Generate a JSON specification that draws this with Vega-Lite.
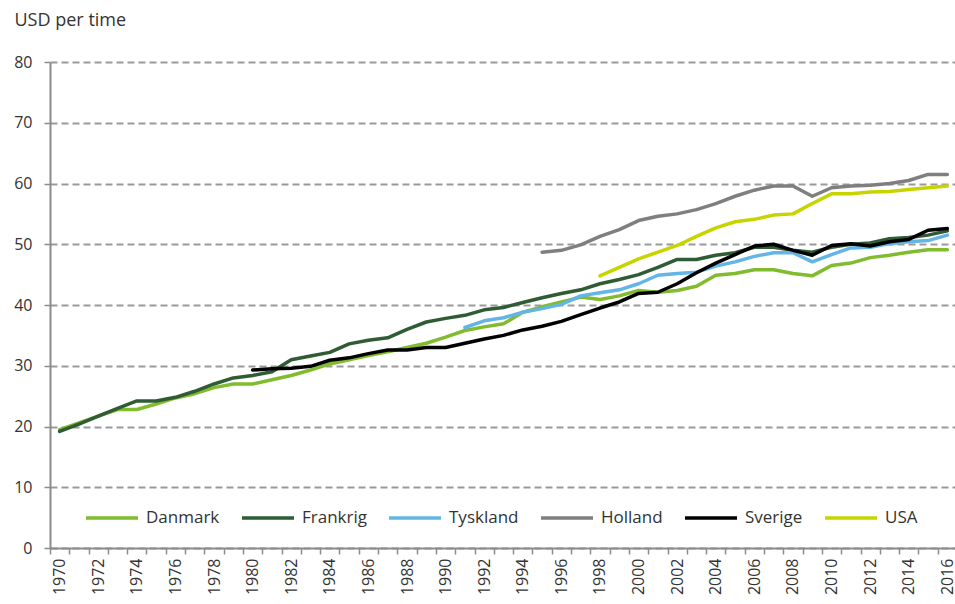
{
  "$schema": "https://vega.github.io/schema/vega-lite/v6.json",
  "autosize": {"type": "none"},
  "padding": {"left": 50, "top": 62, "right": 0, "bottom": 56},
  "width": 907,
  "height": 486,
  "config": {
    "view": {"stroke": null},
    "font": "Open Sans",
    "axis": {"labelFont": "Open Sans", "titleFont": "Open Sans"},
    "legend": {"labelFont": "Open Sans"}
  },
  "data": {"values": [
    {"year":1970,"country":"Danmark","value":19.5},{"year":1971,"country":"Danmark","value":20.6},{"year":1972,"country":"Danmark","value":21.7},{"year":1973,"country":"Danmark","value":22.8},{"year":1974,"country":"Danmark","value":22.8},{"year":1975,"country":"Danmark","value":23.7},{"year":1976,"country":"Danmark","value":24.7},{"year":1977,"country":"Danmark","value":25.4},{"year":1978,"country":"Danmark","value":26.4},{"year":1979,"country":"Danmark","value":27.0},{"year":1980,"country":"Danmark","value":27.0},{"year":1981,"country":"Danmark","value":27.7},{"year":1982,"country":"Danmark","value":28.4},{"year":1983,"country":"Danmark","value":29.3},{"year":1984,"country":"Danmark","value":30.3},{"year":1985,"country":"Danmark","value":31.0},{"year":1986,"country":"Danmark","value":31.7},{"year":1987,"country":"Danmark","value":32.3},{"year":1988,"country":"Danmark","value":33.0},{"year":1989,"country":"Danmark","value":33.7},{"year":1990,"country":"Danmark","value":34.7},{"year":1991,"country":"Danmark","value":35.8},{"year":1992,"country":"Danmark","value":36.4},{"year":1993,"country":"Danmark","value":36.9},{"year":1994,"country":"Danmark","value":38.8},{"year":1995,"country":"Danmark","value":39.7},{"year":1996,"country":"Danmark","value":40.5},{"year":1997,"country":"Danmark","value":41.3},{"year":1998,"country":"Danmark","value":40.9},{"year":1999,"country":"Danmark","value":41.5},{"year":2000,"country":"Danmark","value":42.4},{"year":2001,"country":"Danmark","value":42.1},{"year":2002,"country":"Danmark","value":42.4},{"year":2003,"country":"Danmark","value":43.1},{"year":2004,"country":"Danmark","value":44.9},{"year":2005,"country":"Danmark","value":45.2},{"year":2006,"country":"Danmark","value":45.8},{"year":2007,"country":"Danmark","value":45.8},{"year":2008,"country":"Danmark","value":45.2},{"year":2009,"country":"Danmark","value":44.8},{"year":2010,"country":"Danmark","value":46.5},{"year":2011,"country":"Danmark","value":46.9},{"year":2012,"country":"Danmark","value":47.8},{"year":2013,"country":"Danmark","value":48.2},{"year":2014,"country":"Danmark","value":48.7},{"year":2015,"country":"Danmark","value":49.1},{"year":2016,"country":"Danmark","value":49.1},
    {"year":1970,"country":"Frankrig","value":19.2},{"year":1971,"country":"Frankrig","value":20.4},{"year":1972,"country":"Frankrig","value":21.7},{"year":1973,"country":"Frankrig","value":23.0},{"year":1974,"country":"Frankrig","value":24.2},{"year":1975,"country":"Frankrig","value":24.2},{"year":1976,"country":"Frankrig","value":24.8},{"year":1977,"country":"Frankrig","value":25.8},{"year":1978,"country":"Frankrig","value":27.0},{"year":1979,"country":"Frankrig","value":28.0},{"year":1980,"country":"Frankrig","value":28.4},{"year":1981,"country":"Frankrig","value":29.0},{"year":1982,"country":"Frankrig","value":31.0},{"year":1983,"country":"Frankrig","value":31.6},{"year":1984,"country":"Frankrig","value":32.2},{"year":1985,"country":"Frankrig","value":33.6},{"year":1986,"country":"Frankrig","value":34.2},{"year":1987,"country":"Frankrig","value":34.6},{"year":1988,"country":"Frankrig","value":36.0},{"year":1989,"country":"Frankrig","value":37.2},{"year":1990,"country":"Frankrig","value":37.8},{"year":1991,"country":"Frankrig","value":38.3},{"year":1992,"country":"Frankrig","value":39.2},{"year":1993,"country":"Frankrig","value":39.6},{"year":1994,"country":"Frankrig","value":40.4},{"year":1995,"country":"Frankrig","value":41.2},{"year":1996,"country":"Frankrig","value":41.9},{"year":1997,"country":"Frankrig","value":42.5},{"year":1998,"country":"Frankrig","value":43.5},{"year":1999,"country":"Frankrig","value":44.2},{"year":2000,"country":"Frankrig","value":45.0},{"year":2001,"country":"Frankrig","value":46.2},{"year":2002,"country":"Frankrig","value":47.5},{"year":2003,"country":"Frankrig","value":47.5},{"year":2004,"country":"Frankrig","value":48.2},{"year":2005,"country":"Frankrig","value":48.6},{"year":2006,"country":"Frankrig","value":49.5},{"year":2007,"country":"Frankrig","value":49.5},{"year":2008,"country":"Frankrig","value":49.0},{"year":2009,"country":"Frankrig","value":48.7},{"year":2010,"country":"Frankrig","value":49.5},{"year":2011,"country":"Frankrig","value":50.0},{"year":2012,"country":"Frankrig","value":50.2},{"year":2013,"country":"Frankrig","value":50.9},{"year":2014,"country":"Frankrig","value":51.1},{"year":2015,"country":"Frankrig","value":51.5},{"year":2016,"country":"Frankrig","value":52.2},
    {"year":1991,"country":"Tyskland","value":36.3},{"year":1992,"country":"Tyskland","value":37.4},{"year":1993,"country":"Tyskland","value":37.9},{"year":1994,"country":"Tyskland","value":38.8},{"year":1995,"country":"Tyskland","value":39.4},{"year":1996,"country":"Tyskland","value":40.1},{"year":1997,"country":"Tyskland","value":41.5},{"year":1998,"country":"Tyskland","value":42.0},{"year":1999,"country":"Tyskland","value":42.5},{"year":2000,"country":"Tyskland","value":43.5},{"year":2001,"country":"Tyskland","value":44.9},{"year":2002,"country":"Tyskland","value":45.2},{"year":2003,"country":"Tyskland","value":45.4},{"year":2004,"country":"Tyskland","value":46.4},{"year":2005,"country":"Tyskland","value":47.1},{"year":2006,"country":"Tyskland","value":48.0},{"year":2007,"country":"Tyskland","value":48.6},{"year":2008,"country":"Tyskland","value":48.6},{"year":2009,"country":"Tyskland","value":47.1},{"year":2010,"country":"Tyskland","value":48.3},{"year":2011,"country":"Tyskland","value":49.4},{"year":2012,"country":"Tyskland","value":49.5},{"year":2013,"country":"Tyskland","value":50.1},{"year":2014,"country":"Tyskland","value":50.4},{"year":2015,"country":"Tyskland","value":50.6},{"year":2016,"country":"Tyskland","value":51.5},
    {"year":1995,"country":"Holland","value":48.7},{"year":1996,"country":"Holland","value":49.0},{"year":1997,"country":"Holland","value":49.9},{"year":1998,"country":"Holland","value":51.3},{"year":1999,"country":"Holland","value":52.4},{"year":2000,"country":"Holland","value":53.9},{"year":2001,"country":"Holland","value":54.6},{"year":2002,"country":"Holland","value":55.0},{"year":2003,"country":"Holland","value":55.7},{"year":2004,"country":"Holland","value":56.7},{"year":2005,"country":"Holland","value":57.9},{"year":2006,"country":"Holland","value":58.9},{"year":2007,"country":"Holland","value":59.6},{"year":2008,"country":"Holland","value":59.6},{"year":2009,"country":"Holland","value":57.9},{"year":2010,"country":"Holland","value":59.3},{"year":2011,"country":"Holland","value":59.6},{"year":2012,"country":"Holland","value":59.7},{"year":2013,"country":"Holland","value":60.0},{"year":2014,"country":"Holland","value":60.5},{"year":2015,"country":"Holland","value":61.5},{"year":2016,"country":"Holland","value":61.5},
    {"year":1980,"country":"Sverige","value":29.3},{"year":1981,"country":"Sverige","value":29.5},{"year":1982,"country":"Sverige","value":29.6},{"year":1983,"country":"Sverige","value":29.9},{"year":1984,"country":"Sverige","value":30.9},{"year":1985,"country":"Sverige","value":31.3},{"year":1986,"country":"Sverige","value":32.0},{"year":1987,"country":"Sverige","value":32.6},{"year":1988,"country":"Sverige","value":32.6},{"year":1989,"country":"Sverige","value":33.0},{"year":1990,"country":"Sverige","value":33.0},{"year":1991,"country":"Sverige","value":33.7},{"year":1992,"country":"Sverige","value":34.4},{"year":1993,"country":"Sverige","value":35.0},{"year":1994,"country":"Sverige","value":35.9},{"year":1995,"country":"Sverige","value":36.5},{"year":1996,"country":"Sverige","value":37.3},{"year":1997,"country":"Sverige","value":38.4},{"year":1998,"country":"Sverige","value":39.5},{"year":1999,"country":"Sverige","value":40.5},{"year":2000,"country":"Sverige","value":41.9},{"year":2001,"country":"Sverige","value":42.1},{"year":2002,"country":"Sverige","value":43.5},{"year":2003,"country":"Sverige","value":45.3},{"year":2004,"country":"Sverige","value":46.9},{"year":2005,"country":"Sverige","value":48.3},{"year":2006,"country":"Sverige","value":49.7},{"year":2007,"country":"Sverige","value":50.0},{"year":2008,"country":"Sverige","value":49.0},{"year":2009,"country":"Sverige","value":48.2},{"year":2010,"country":"Sverige","value":49.8},{"year":2011,"country":"Sverige","value":50.1},{"year":2012,"country":"Sverige","value":49.7},{"year":2013,"country":"Sverige","value":50.4},{"year":2014,"country":"Sverige","value":50.8},{"year":2015,"country":"Sverige","value":52.3},{"year":2016,"country":"Sverige","value":52.6},
    {"year":1998,"country":"USA","value":44.8},{"year":1999,"country":"USA","value":46.2},{"year":2000,"country":"USA","value":47.6},{"year":2001,"country":"USA","value":48.7},{"year":2002,"country":"USA","value":49.8},{"year":2003,"country":"USA","value":51.3},{"year":2004,"country":"USA","value":52.7},{"year":2005,"country":"USA","value":53.7},{"year":2006,"country":"USA","value":54.1},{"year":2007,"country":"USA","value":54.8},{"year":2008,"country":"USA","value":55.0},{"year":2009,"country":"USA","value":56.7},{"year":2010,"country":"USA","value":58.3},{"year":2011,"country":"USA","value":58.3},{"year":2012,"country":"USA","value":58.6},{"year":2013,"country":"USA","value":58.7},{"year":2014,"country":"USA","value":59.0},{"year":2015,"country":"USA","value":59.3},{"year":2016,"country":"USA","value":59.6}
  ]},
  "mark": {"type": "line", "strokeWidth": 3.5, "strokeJoin": "round", "strokeCap": "round"},
  "encoding": {
    "x": {
      "field": "year", "type": "ordinal", "bandPosition": 0.5,
      "scale": {"type": "band", "paddingInner": 0, "paddingOuter": 0},
      "axis": {
        "title": null, "labelAngle": -90, "labelFontSize": 16, "labelColor": "#333333",
        "labelExpr": "datum.value % 2 == 0 ? datum.label : ''",
        "tickBand": "extent", "tickSize": 6, "tickColor": "#8c8c8c", "tickWidth": 1.5,
        "domainColor": "#8c8c8c", "domainWidth": 2, "labelPadding": 4, "grid": false
      }
    },
    "y": {
      "field": "value", "type": "quantitative",
      "scale": {"domain": [0, 80], "nice": false, "zero": true},
      "axis": {
        "values": [0, 10, 20, 30, 40, 50, 60, 70, 80],
        "labelFontSize": 16, "labelColor": "#333333", "labelPadding": 12,
        "tickSize": 6, "tickColor": "#8c8c8c", "tickWidth": 1.5,
        "domainColor": "#8c8c8c", "domainWidth": 2,
        "grid": true, "gridDash": [7, 4], "gridColor": "#9a9a9a", "gridWidth": 1.8,
        "title": "USD per time", "titleAngle": 0, "titleAlign": "left", "titleBaseline": "middle",
        "titleX": -36, "titleY": -42, "titleFontSize": 18, "titleFontWeight": "normal", "titleColor": "#333333"
      }
    },
    "color": {
      "field": "country", "type": "nominal",
      "scale": {
        "domain": ["Danmark", "Frankrig", "Tyskland", "Holland", "Sverige", "USA"],
        "range": ["#80bc2e", "#2f5b35", "#63b5e5", "#7f7f7f", "#000000", "#c8d400"]
      },
      "legend": {
        "title": null, "orient": "none", "direction": "horizontal",
        "legendX": 34, "legendY": 428, "padding": 0,
        "symbolType": "stroke", "symbolSize": 2704, "symbolStrokeWidth": 3.5,
        "labelFontSize": 17, "labelColor": "#333333", "labelOffset": 6, "columnPadding": 15
      }
    }
  }
}
